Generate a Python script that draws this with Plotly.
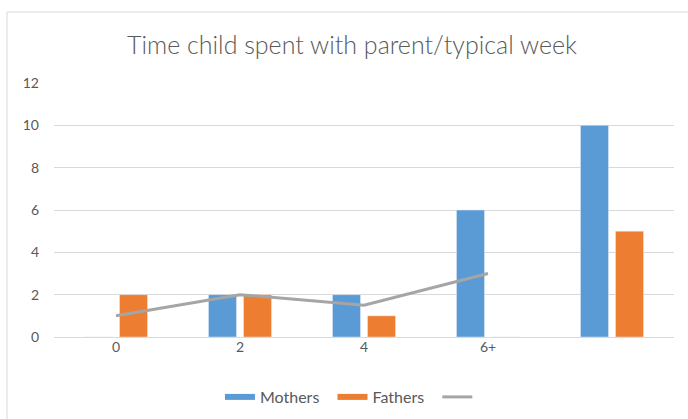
import plotly.graph_objects as go

categories = ["0", "2", "4", "6+", " "]
mothers = [0, 2, 2, 6, 10]
fathers = [2, 2, 1, 0, 5]
trend = [1, 2, 1.5, 3, None]
y_ticks = [0, 2, 4, 6, 8, 10, 12]

FONT = "Lato, 'Open Sans', sans-serif"
GREY = "#595959"
BLUE = "#5B9BD5"
ORANGE = "#ED7D31"
LINE = "#A5A5A5"

fig = go.Figure()
fig.add_trace(go.Bar(x=categories, y=mothers, name="Mothers", marker_color=BLUE,
                     showlegend=False))
fig.add_trace(go.Bar(x=categories, y=fathers, name="Fathers", marker_color=ORANGE,
                     showlegend=False))
fig.add_trace(go.Scatter(x=categories, y=trend, name=" ", mode="lines",
                         line=dict(color=LINE, width=3), connectgaps=False,
                         showlegend=False))
# legend entries (Excel-style wide swatches)
fig.add_trace(go.Scatter(x=[None], y=[None], name="Mothers  ", mode="lines",
                         line=dict(color=BLUE, width=6)))
fig.add_trace(go.Scatter(x=[None], y=[None], name="Fathers  ", mode="lines",
                         line=dict(color=ORANGE, width=6)))
fig.add_trace(go.Scatter(x=[None], y=[None], name=" ", mode="lines",
                         line=dict(color=LINE, width=3)))

fig.update_layout(
    width=688, height=419,
    margin=dict(l=54, r=14, t=83, b=82, autoexpand=False),
    paper_bgcolor="white", plot_bgcolor="white",
    barmode="group", bargap=0.435, bargroupgap=0.2,
    font=dict(family=FONT, color=GREY, size=14),
    title=dict(text="Time child spent with parent/typical week", x=0.4806, xanchor="center",
               xref="paper", y=1 - 45 / 419, yanchor="middle",
               font=dict(size=25, color=GREY, family=FONT, weight=300)),
    xaxis=dict(type="category", showgrid=False, showline=False, ticks="",
               automargin=False, tickfont=dict(size=14, color=GREY)),
    yaxis=dict(range=[0, 12], tickvals=y_ticks, showgrid=True, gridcolor="#D9D9D9",
               gridwidth=1, zeroline=True, zerolinecolor="#D9D9D9", zerolinewidth=1,
               showline=False, ticks="", ticklabelstandoff=14, automargin=False,
               tickfont=dict(size=14, color=GREY)),
    legend=dict(orientation="h", x=0.483, xanchor="center", xref="paper",
                yref="container", y=1 - 397 / 419, yanchor="middle",
                font=dict(size=16, color=GREY), traceorder="normal"),
    showlegend=True,
    shapes=[dict(type="rect", xref="paper", yref="paper", x0=-0.0758, x1=1.03,
                 y0=-0.34, y1=1.2795, line=dict(color="#D9D9D9", width=1),
                 fillcolor="rgba(0,0,0,0)", layer="below")],
)

fig.write_html("out.html", config={"displayModeBar": False},
               post_script="document.body.style.margin='0';document.body.style.overflow='hidden';")
